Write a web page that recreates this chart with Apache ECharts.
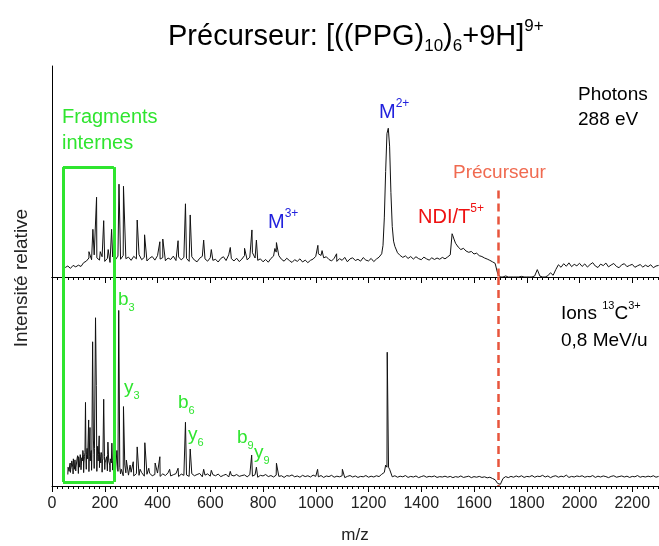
<!DOCTYPE html>
<html><head><meta charset="utf-8">
<script src="https://cdn.jsdelivr.net/npm/echarts@6/dist/echarts.min.js"></script>
<style>html,body{margin:0;padding:0;background:#fff}#c{width:659px;height:546px}</style>
</head><body><div id="c"></div>
<script>
// ---- data (m/z, relative intensity 0-100 per panel) ----
const xTicks = [0,200,400,600,800,1000,1200,1400,1600,1800,2000,2200];
const topStart = 50, topStep = 10;
const topBase = [
4.5,5.2,4.1,5.5,4.8,5.6,5.0,
6.8,7.5,9.0,8.2,10.5,9.1,8.0,9.6,7.4,8.8,6.9,9.5,8.1,9.9,
8.4,10.2,8.7,9.4,7.9,9.8,8.6,10.6,8.2,9.3,7.6,8.9,9.7,8.0,10.1,8.5,9.2,7.7,9.0,8.3,9.9,7.8,9.5,8.1,9.3,
8.8,7.4,9.6,8.0,7.2,8.9,9.8,8.6,7.5,9.1,7.9,8.4,7.1,8.8,9.6,7.8,10.5,8.7,7.6,8.9,7.3,8.5,10.2,8.1,9.4,
11.5,9.0,7.9,8.6,7.2,8.3,7.0,8.8,9.9,11.8,10.1,8.4,7.5,8.9,7.8,6.9,8.2,7.4,8.6,7.1,8.0,6.8,7.9,8.5,9.8,
11.0,10.2,9.1,9.6,8.3,7.6,8.9,7.4,8.7,7.9,9.3,7.2,8.6,9.1,7.8,8.4,7.5,9.2,8.0,7.6,8.8,7.3,8.5,9.4,11.0,
28,68,62,24,14.5,11.5,10.2,9.3,10.0,8.8,9.7,8.5,9.6,8.7,8.2,9.4,8.6,8.0,9.1,8.3,9.0,8.4,9.3,8.6,9.5,
10.5,19.5,16.0,14.2,13.0,13.6,12.3,11.7,12.1,10.9,11.3,10.1,9.7,9.0,8.5,7.9,7.2,6.5,1.5,0,0,0.5,0,0,0,
0,0,0.3,0,0,0,0,0.5,3.5,0.4,0,0,0.6,2.0,0.8,3.5,5.8,4.6,6.3,5.1,6.7,4.9,6.0,5.3,6.5,
5.0,6.2,4.7,5.9,6.8,5.2,4.5,6.1,5.4,6.6,4.8,5.7,6.4,5.0,4.4,5.8,6.3,4.9,5.5,6.0,4.6,5.3,5.9,4.7,5.6,
4.9,5.8,4.4,5.2,5.5
];
const topPeaks = [
[140,12],[155,22.6],[169,37.8],[183,12],[196,26.7],[213,13],[226,22.6],[238,12],[254,44],[271,43],
[323,27],[351,20],[409,16.7],[420,18],[478,17.2],[506,34.7],[524,29.4],[575,17.5],[604,13],
[676,14],[730,13.6],[758,22.3],[775,17.5],[845,13.5],[851,16.3],[1008,15],[1024,12.5],[1079,11],
[1255,15],[1265,50],[1275,70.5],[1285,40],[1295,17],[1517,20.5],[1524,18]
];
const botStart = 60, botStep = 10;
const botBase = [
5.5,6.5,5.8,7.2,6.0,7.8,6.4,8.0,6.9,7.5,8.4,7.0,8.8,6.6,7.9,7.2,6.8,7.6,6.2,7.0,
5.8,4.9,6.3,5.2,6.6,4.8,5.9,5.1,6.4,4.7,5.6,6.1,4.9,5.5,6.2,4.6,5.8,5.0,6.3,4.8,5.4,5.9,4.5,5.7,5.1,
5.3,4.6,5.9,4.9,5.5,6.0,4.4,5.2,5.8,4.7,5.4,4.9,5.7,4.5,5.1,5.6,4.3,5.2,4.8,5.5,4.6,5.0,5.3,4.4,5.4,
4.7,5.4,4.2,5.1,4.8,5.5,4.5,5.0,4.3,5.2,4.6,4.9,4.1,5.0,4.7,5.3,4.4,4.8,4.2,5.1,4.5,4.9,4.3,5.2,4.6,
4.4,5.0,4.1,4.8,4.5,5.1,4.2,4.7,4.4,4.9,4.0,4.6,5.0,4.3,4.8,4.1,4.6,4.4,5.0,4.2,4.7,4.3,4.9,4.5,5.6,
6.5,9.0,8.0,4.4,4.9,4.2,4.7,4.4,5.0,4.1,4.6,4.3,4.8,4.0,4.5,4.9,4.2,4.6,4.4,4.8,4.1,4.5,4.3,4.7,4.2,
4.6,4.0,4.5,4.2,4.8,4.1,4.4,4.7,4.0,4.5,4.2,4.6,4.1,4.4,3.9,4.2,3.6,3.0,1.2,0.8,3.6,4.5,4.0,4.6,4.2,
4.8,4.3,4.9,4.1,4.6,4.4,5.0,4.2,4.7,4.5,5.1,4.3,4.8,4.0,4.6,4.9,4.2,4.7,4.4,5.2,4.1,4.6,4.3,4.8,4.5,
4.9,4.2,4.6,4.4,5.0,4.1,4.7,4.3,4.8,4.5,4.0,4.6,4.9,4.2,4.5,4.8,4.3,4.7,4.1,4.6,4.4,5.0,4.2,4.6,4.3,
4.7,4.4,4.9,4.2,4.6
];
const botPeaks = [
[63,8.5],[67,10],[73,9],[77,11.5],[83,10],[87,12.5],[93,11],[97,14.5],[103,12],[107,15],[113,13.5],
[117,17],[123,14],[127,40],[133,18],[137,22],[139,31.6],[144,28],[147,16],[154,69],[157,22],[165,80.5],
[168,48],[173,19],[176,15],[179,24],[183,14],[187,16],[193,13],[196,41.5],[203,12],[207,14],[212,21],
[217,11],[223,12],[227,20.5],[233,10.5],[237,9],[243,11],[246,17],[253,84],[257,9],[263,8],[271,38],
[276,10],[282,12.4],[296,10],[308,11.6],[323,18.7],[334,8],[352,20.7],[367,8.5],[391,11],[409,14],
[446,8],[478,8.5],[506,30.5],[524,17.7],[575,8],[604,7.5],[676,7],[757,14.8],[775,9],[851,10.9],
[1007,8],[1101,8],[1265,10],[1271,64],[1276,9]
];
// dense low-level fragment noise in the 60-250 region (bottom panel)
const botDense = [
[61,9],[65,7],[69,11],[71,8],[75,12],[79,9],[81,13],[85,8],[89,12],[91,9],[95,13],[99,10],[101,14],
[105,9],[109,13],[111,10],[115,12],[119,15],[121,11],[125,16],[129,12],[131,15],[135,13],[141,14],
[145,12],[149,17],[151,13],[159,15],[161,18],[171,14],[175,12],[181,16],[185,11],[189,15],[191,12],
[199,14],[201,11],[205,13],[209,10],[211,15],[215,12],[219,10],[221,13],[225,11],[229,12],[231,9],
[235,10],[239,8]
];
// annotations in data units
const fragBox = {mzFrom: 41.6, mzTo: 234.7, topPanelTop: 52.1, botPanelBottom: 1.9};
const precursorMz = 1692, precursorTopStart = 41;

function build(start, step, base, peaks){
  const pts = base.map((v,i)=>[start+i*step, v]).concat(peaks.map(p=>[p[0],p[1]]));
  pts.sort((a,b)=>a[0]-b[0]);
  return pts;
}
const GREEN = '#2fe52f', FONT = 'Liberation Sans, Arial, sans-serif';
const green = {color: GREEN, width: 3, type: 'solid'};
const dash = {color: '#e8553d', width: 2.5, type: [8,5]};

const chart = echarts.init(document.getElementById('c'), null, {renderer:'canvas'});
const axCommon = {
  type:'value', min:0, max:2400, interval:200,
  axisLine:{show:true, lineStyle:{color:'#000', width:1}},
  splitLine:{show:false},
  minorTick:{show:true, splitNumber:10, length:3, lineStyle:{color:'#000'}},
  axisTick:{show:true, length:6, lineStyle:{color:'#000'}}
};
const yCommon = {type:'value', min:0, max:100, axisLine:{show:true, lineStyle:{color:'#000'}},
  axisTick:{show:false}, axisLabel:{show:false}, splitLine:{show:false}};

function tx(text, left, top, color, size, rich){
  return {text: text, left: left, top: top, padding: 0,
    textStyle: {color: color, fontSize: size, fontFamily: FONT, fontWeight:'normal', lineHeight: size+6, rich: rich || {}}};
}
function richSet(color, size, r){
  r = r || 0.6;
  const ss = Math.round(size*r);
  return {
    m:{color:color, fontSize:size, fontFamily:FONT, lineHeight:size+8},
    p:{color:color, fontSize:ss, fontFamily:FONT, verticalAlign:'top', lineHeight:ss+2},
    s:{color:color, fontSize:ss, fontFamily:FONT, verticalAlign:'bottom', lineHeight:ss+2}
  };
}

chart.setOption({
  animation:false,
  backgroundColor:'#fff',
  title:[
    tx('{m|Précurseur: [((PPG)}{s|10}{m|)}{s|6}{m|+9H]}{p|9+}', 168, 18, '#000', 29, richSet('#000',29,0.6)),
    tx('Fragments\ninternes', 62, 104, GREEN, 20),
    tx('{m|M}{p|2+}', 379, 98, '#2222dd', 20, richSet('#2222dd',20)),
    tx('{m|M}{p|3+}', 268, 208, '#2222dd', 20, richSet('#2222dd',20)),
    tx('{m|NDI/T}{p|5+}', 418, 203, '#ee1111', 20, richSet('#ee1111',20)),
    tx('Précurseur', 453, 160, '#f06a50', 19),
    tx('Photons\n288 eV', 578, 82, '#000', 19),
    tx('{m|Ions }{p|13}{m|C}{p|3+}\n{m|0,8 MeV/u}', 561, 300, '#000', 19, richSet('#000',19)),
    tx('{m|b}{s|3}', 118, 286, GREEN, 19, richSet(GREEN,19)),
    tx('{m|y}{s|3}', 124, 374, GREEN, 19, richSet(GREEN,19)),
    tx('{m|b}{s|6}', 178, 389, GREEN, 19, richSet(GREEN,19)),
    tx('{m|y}{s|6}', 188, 421, GREEN, 19, richSet(GREEN,19)),
    tx('{m|b}{s|9}', 237, 424, GREEN, 19, richSet(GREEN,19)),
    tx('{m|y}{s|9}', 254, 439, GREEN, 19, richSet(GREEN,19))
  ],
  graphic:[
    {type:'text', x:22, y:278, rotation:Math.PI/2,
     style:{text:'Intensité relative', font:'19px Liberation Sans', fill:'#222', align:'center', verticalAlign:'middle'}},
    {type:'text', x:355, y:535,
     style:{text:'m/z', font:'17px Liberation Sans', fill:'#222', align:'center', verticalAlign:'middle'}}
  ],
  grid:[
    {left:52, width:633, top:66, height:211, outerBoundsMode:'none', containLabel:false},
    {left:52, width:633, top:277, height:209, outerBoundsMode:'none', containLabel:false}
  ],
  xAxis:[
    Object.assign({}, axCommon, {gridIndex:0, position:'top', axisTick:{show:true, inside:true, length:6, lineStyle:{color:'#000'}}, axisLabel:{show:false}}),
    Object.assign({}, axCommon, {gridIndex:1, position:'bottom',
      axisLabel:{show:true, fontSize:16, color:'#222', fontFamily:FONT, margin:10,
        formatter:(v)=> xTicks.indexOf(v) >= 0 ? String(v) : ''}}),
    Object.assign({}, axCommon, {gridIndex:1, position:'top', axisTick:{show:true, inside:true, length:6, lineStyle:{color:'#000'}}, axisLabel:{show:false}})
  ],
  yAxis:[
    Object.assign({}, yCommon, {gridIndex:0}),
    Object.assign({}, yCommon, {gridIndex:1})
  ],
  series:[
    {type:'line', xAxisIndex:0, yAxisIndex:0, data: build(topStart, topStep, topBase, topPeaks),
     showSymbol:false, lineStyle:{color:'#111', width:1}, silent:true, z:2,
     markLine:{silent:true, symbol:['none','none'], label:{show:false}, emphasis:{disabled:true}, z:5,
       data:[
         [{coord:[fragBox.mzFrom, fragBox.topPanelTop], lineStyle:green},{coord:[fragBox.mzFrom, 0]}],
         [{coord:[fragBox.mzTo, fragBox.topPanelTop], lineStyle:green},{coord:[fragBox.mzTo, 0]}],
         [{coord:[fragBox.mzFrom, fragBox.topPanelTop], lineStyle:green},{coord:[fragBox.mzTo, fragBox.topPanelTop]}],
         [{coord:[precursorMz, precursorTopStart], lineStyle:dash},{coord:[precursorMz, 0]}]
       ]}},
    {type:'line', xAxisIndex:1, yAxisIndex:1, data: build(botStart, botStep, botBase, botPeaks.concat(botDense)),
     showSymbol:false, lineStyle:{color:'#111', width:1}, silent:true, z:2,
     markLine:{silent:true, symbol:['none','none'], label:{show:false}, emphasis:{disabled:true}, z:5,
       data:[
         [{coord:[fragBox.mzFrom, 100], lineStyle:green},{coord:[fragBox.mzFrom, fragBox.botPanelBottom]}],
         [{coord:[fragBox.mzTo, 100], lineStyle:green},{coord:[fragBox.mzTo, fragBox.botPanelBottom]}],
         [{coord:[fragBox.mzFrom, fragBox.botPanelBottom], lineStyle:green},{coord:[fragBox.mzTo, fragBox.botPanelBottom]}],
         [{coord:[precursorMz, 100], lineStyle:dash},{coord:[precursorMz, 0]}]
       ]}}
  ]
});
</script></body></html>
